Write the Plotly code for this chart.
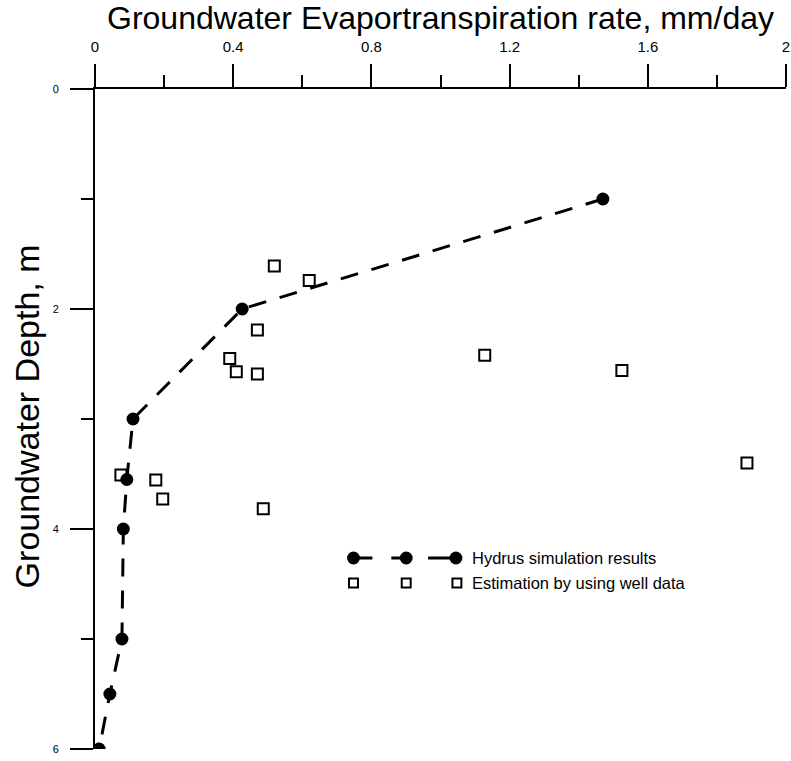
import plotly.graph_objects as go

# Hydrus simulated groundwater evapotranspiration vs. water-table depth
hydrus_rate = [1.47, 0.426, 0.110, 0.092, 0.082, 0.078, 0.043, 0.012]
hydrus_depth = [1.0, 2.0, 3.0, 3.55, 4.0, 5.0, 5.5, 6.0]

# Estimates derived from well observations
well_rate = [0.519, 0.620, 0.470, 0.390, 0.409, 0.470, 1.128, 1.525,
             1.887, 0.075, 0.176, 0.196, 0.487]
well_depth = [1.61, 1.74, 2.19, 2.45, 2.57, 2.59, 2.42, 2.56,
              3.40, 3.51, 3.555, 3.727, 3.815]

x_title = "Groundwater Evaportranspiration rate, mm/day"
y_title = "Groundwater Depth, m"
legend_labels = ["Hydrus simulation results", "Estimation by using well data"]

FONT = "Liberation Sans, Arial, sans-serif"
W, H = 791, 761
ML, MR, MT, MB = 95, 1, 89, 12


def px(xpix):
    """Pixel column -> paper x."""
    return (xpix - ML) / (W - ML - MR)


def py(ypix):
    """Pixel row -> paper y."""
    return 1 - (ypix - MT) / (H - MT - MB)


fig = go.Figure()

fig.add_trace(go.Scatter(
    x=hydrus_rate, y=hydrus_depth, mode="lines+markers",
    line=dict(color="black", width=3, dash="18px,14px"),
    marker=dict(symbol="circle", size=13, color="black"),
    showlegend=False,
))
fig.add_trace(go.Scatter(
    x=well_rate, y=well_depth, mode="markers",
    marker=dict(symbol="square-open", size=11, color="black",
                line=dict(width=2, color="black")),
    showlegend=False,
))

# Key block: three symbol samples per row followed by the label
row1, row2 = 558, 583
shapes = []
for x0, x1 in [(355, 374), (393, 408), (430, 458)]:
    shapes.append(dict(type="line", xref="paper", yref="paper",
                       x0=px(x0), x1=px(x1), y0=py(row1), y1=py(row1),
                       line=dict(color="black", width=3)))
r = 6.5
for cx in [355, 408, 458]:
    shapes.append(dict(type="circle", xref="paper", yref="paper",
                       x0=px(cx - r), x1=px(cx + r), y0=py(row1 + r), y1=py(row1 - r),
                       fillcolor="black", line=dict(color="black", width=0)))
s = 4.5
for cx in [355, 408, 459]:
    shapes.append(dict(type="rect", xref="paper", yref="paper",
                       x0=px(cx - s), x1=px(cx + s), y0=py(row2 + s), y1=py(row2 - s),
                       fillcolor="white", line=dict(color="black", width=2)))
for label, ypix in zip(legend_labels, [row1, row2]):
    fig.add_annotation(text=label, xref="paper", yref="paper",
                       x=px(472), y=py(ypix), xanchor="left", yanchor="middle",
                       showarrow=False, font=dict(size=16.5, color="black", family=FONT))

# Axis titles
fig.add_annotation(text=x_title, xref="paper", yref="paper",
                   x=px(442), y=py(18), xanchor="center", yanchor="middle",
                   showarrow=False, font=dict(size=32, color="black", family=FONT))
fig.add_annotation(text=y_title, xref="paper", yref="paper",
                   x=px(27), y=py(416), xanchor="center", yanchor="middle",
                   textangle=-90, showarrow=False,
                   font=dict(size=34, color="black", family=FONT))

fig.update_layout(
    width=W, height=H,
    margin=dict(l=ML, r=MR, t=MT, b=MB),
    paper_bgcolor="white", plot_bgcolor="white",
    font=dict(family=FONT, color="black"),
    shapes=shapes,
    xaxis=dict(
        side="top", range=[0, 2], tick0=0, dtick=0.4,
        ticks="outside", ticklen=23, tickwidth=2, tickcolor="black",
        minor=dict(dtick=0.2, ticks="outside", ticklen=12, tickwidth=2, tickcolor="black"),
        showline=True, linecolor="black", linewidth=2,
        showgrid=False, zeroline=False,
        tickfont=dict(size=15), ticklabelstandoff=6, ticklabeloverflow="allow",
    ),
    yaxis=dict(
        range=[6, 0], tick0=0, dtick=2,
        ticks="outside", ticklen=23, tickwidth=2, tickcolor="black",
        minor=dict(dtick=1, ticks="outside", ticklen=12, tickwidth=2, tickcolor="black"),
        showline=True, linecolor="black", linewidth=2,
        showgrid=False, zeroline=False,
        tickfont=dict(size=11), ticklabelstandoff=9, ticklabeloverflow="allow",
    ),
)

fig.write_html("out.html")
